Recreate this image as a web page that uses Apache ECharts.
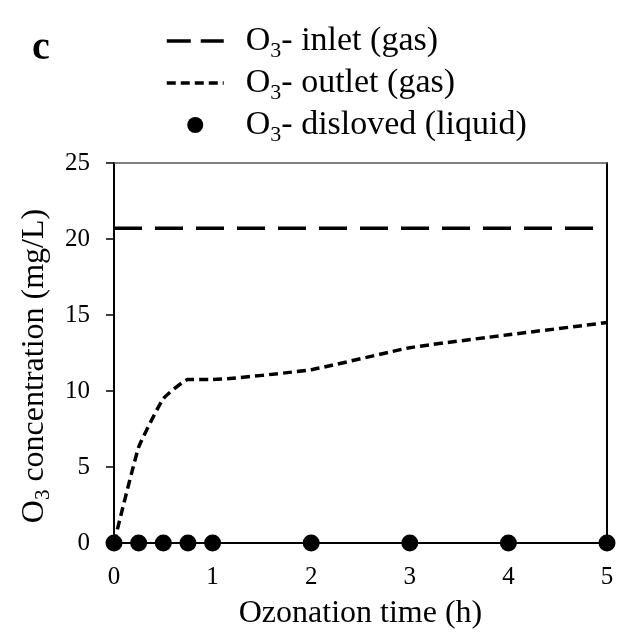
<!DOCTYPE html>
<html>
<head>
<meta charset="utf-8">
<script src="https://cdn.jsdelivr.net/npm/echarts@6/dist/echarts.min.js"></script>
<style>
  html, body { margin: 0; padding: 0; background: #fff; }
  #chart { width: 617px; height: 635px; }
</style>
</head>
<body>
<div id="chart"></div>
<script>
// Ozonation time (h)
const timeHours = [0, 0.25, 0.5, 0.75, 1, 2, 3, 4, 5];
// O3 in the gas feed (mg/L), constant over the run
const inletTimes = [0, 5];
const inletConc = [20.7, 20.7];
// O3 leaving the reactor in the gas phase (mg/L)
const outletConc = [0, 6.3, 9.5, 10.75, 10.75, 11.4, 12.85, 13.7, 14.5];
// O3 dissolved in the liquid (mg/L)
const dissolvedConc = [0, 0, 0, 0, 0, 0, 0, 0, 0];
// Axis ticks
const xTicks = [0, 1, 2, 3, 4, 5];
const yTicks = [0, 5, 10, 15, 20, 25];

const SERIF = "'Liberation Serif', 'Times New Roman', serif";
const labels = {
  inlet: '- inlet (gas)',
  outlet: '- outlet (gas)',
  dissolved: '- disloved (liquid)'
};

const pair = (xs, ys) => xs.map((x, i) => [x, ys[i]]);

// rich-text styles for "O3" with a lowered subscript 3
const subRich = (size, subSize, lh, drop) => ({
  o: { fontFamily: SERIF, fontSize: size, color: '#000', lineHeight: lh },
  t: { fontFamily: SERIF, fontSize: size, color: '#000', lineHeight: lh },
  s: { fontFamily: SERIF, fontSize: subSize, color: '#000', lineHeight: lh - drop * 2, padding: [drop * 2 - 2, 0, 0, 0] }
});

// line series draw only their stroke in the legend, no marker
const hiddenMarker = { color: 'rgba(0,0,0,0)', borderWidth: 0, opacity: 0 };

const chart = echarts.init(document.getElementById('chart'), null, { renderer: 'canvas' });

const option = {
  backgroundColor: '#fff',
  animation: false,
  graphic: [{
    type: 'text',
    left: 32,
    top: 29,
    style: { text: 'c', font: "bold 40px 'Liberation Serif', serif", fill: '#000' }
  }],
  legend: {
    orient: 'vertical',
    left: 160,
    top: 15,
    itemWidth: 57,
    itemHeight: 16,
    itemGap: 0,
    selectedMode: false,
    data: [
      { name: 'inlet', itemStyle: hiddenMarker, lineStyle: { opacity: 1, width: 3.5, color: '#000', type: [24, 10] } },
      { name: 'outlet', itemStyle: hiddenMarker, lineStyle: { opacity: 1, width: 3.5, color: '#000', type: [9, 5] } },
      { name: 'dissolved' }
    ],
    formatter: (n) => '{o|O}{s|3}{t|' + labels[n] + '}',
    textStyle: {
      padding: [0, 0, 0, 17],
      rich: subRich(34, 22, 40, 11)
    }
  },
  grid: { left: 114, right: 10, top: 163, bottom: 92 },
  xAxis: [{
    type: 'value',
    min: 0, max: 5, interval: 1,
    axisLine: { show: true, onZero: false, lineStyle: { color: '#000', width: 2 } },
    axisTick: { show: false },
    splitLine: { show: false },
    axisLabel: {
      margin: 22,
      fontFamily: SERIF, fontSize: 25, color: '#000',
      formatter: (v) => xTicks.includes(v) ? String(v) : ''
    },
    name: 'Ozonation time (h)',
    nameLocation: 'middle',
    nameGap: 55,
    nameTextStyle: { fontFamily: SERIF, fontSize: 32, color: '#000' }
  }, {
    type: 'value', position: 'top',
    min: 0, max: 5,
    axisLine: { show: true, onZero: false, lineStyle: { color: '#555', width: 1.5 } },
    axisTick: { show: false }, axisLabel: { show: false }, splitLine: { show: false }
  }],
  yAxis: [{
    type: 'value',
    min: 0, max: 25, interval: 5,
    axisLine: { show: true, onZero: false, lineStyle: { color: '#000', width: 2 } },
    axisTick: { show: true, inside: false, length: 8, lineStyle: { color: '#000', width: 1.5 } },
    splitLine: { show: false },
    axisLabel: {
      margin: 24,
      fontFamily: SERIF, fontSize: 25, color: '#000',
      formatter: (v) => yTicks.includes(v) ? String(v) : ''
    },
    name: '{o|O}{s|3}{e| concentration (mg/L)}',
    nameLocation: 'middle',
    nameRotate: 90,
    nameGap: 60,
    nameTextStyle: {
      rich: Object.assign(subRich(32, 21, 38, 10), {
        e: { fontFamily: SERIF, fontSize: 32, color: '#000', lineHeight: 38, padding: [0, 26, 0, 0] }
      })
    }
  }, {
    type: 'value', position: 'right',
    min: 0, max: 25,
    axisLine: { show: true, onZero: false, lineStyle: { color: '#000', width: 2 } },
    axisTick: { show: false }, axisLabel: { show: false }, splitLine: { show: false }
  }],
  series: [{
    name: 'inlet',
    type: 'line',
    data: pair(inletTimes, inletConc),
    symbol: 'none',
    itemStyle: { color: '#000' },
    lineStyle: { color: '#000', width: 3.5, type: [28, 13] },
    z: 3
  }, {
    name: 'outlet',
    type: 'line',
    data: pair(timeHours, outletConc),
    symbol: 'none',
    smooth: 0.12,
    itemStyle: { color: '#000' },
    lineStyle: { color: '#000', width: 3.5, type: [9, 5] },
    z: 3
  }, {
    name: 'dissolved',
    type: 'scatter',
    data: pair(timeHours, dissolvedConc),
    symbol: 'circle',
    symbolSize: 17,
    clip: false,
    itemStyle: { color: '#000', opacity: 1 },
    z: 4
  }]
};

chart.setOption(option);
</script>
</body>
</html>
